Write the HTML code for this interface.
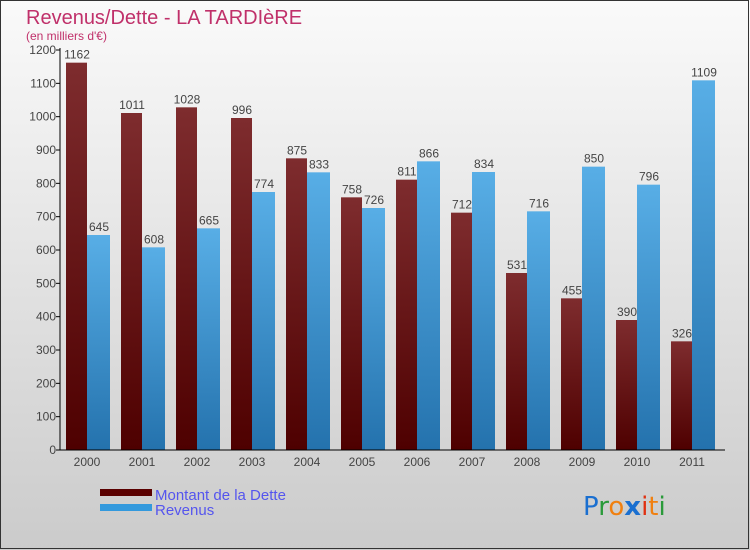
<!DOCTYPE html>
<html><head><meta charset="utf-8"><style>
body{margin:0;width:750px;height:550px;overflow:hidden;font-family:"Liberation Sans",sans-serif}
svg{display:block}
</style></head><body>
<svg width="750" height="550">
<defs>
<linearGradient id="bg" x1="0" y1="0" x2="0" y2="1"><stop offset="0" stop-color="#fafafa"/><stop offset="1" stop-color="#cbcbcb"/></linearGradient>
<linearGradient id="gd" x1="0" y1="0" x2="0" y2="1"><stop offset="0" stop-color="#7e2c2e"/><stop offset="1" stop-color="#4e0000"/></linearGradient>
<linearGradient id="gr" x1="0" y1="0" x2="0" y2="1"><stop offset="0" stop-color="#58aee6"/><stop offset="1" stop-color="#2472ad"/></linearGradient>
</defs>
<rect x="0" y="0" width="750" height="550" fill="url(#bg)"/>
<rect x="0.5" y="0.5" width="748" height="548" fill="none" stroke="#333" stroke-width="1"/>
<text x="26" y="24" font-size="20" fill="#c0306a">Revenus/Dette - LA TARDIèRE</text>
<text x="26" y="40" font-size="12" fill="#c0306a">(en milliers d'€)</text>
<g id="plot"></g>
<g>
<rect x="100" y="489" width="52" height="7" fill="#5a0000"/>
<text x="155" y="500" font-size="15" fill="#5555ee">Montant de la Dette</text>
<rect x="100" y="504" width="52" height="7" fill="#3399dd"/>
<text x="155" y="515" font-size="15" fill="#5555ee">Revenus</text>
</g>
<g font-size="26" font-family="'DejaVu Sans',sans-serif">
<text x="583" y="515"><tspan fill="#1a6fd0">P</tspan><tspan fill="#2a9a3a">r</tspan><tspan fill="#f08010">o</tspan><tspan fill="#1a6fd0" font-weight="bold">x</tspan><tspan fill="#e03010">i</tspan><tspan fill="#f08010">t</tspan><tspan fill="#2a9a3a">i</tspan></text>
</g>
</svg>
<script>
const years=["2000","2001","2002","2003","2004","2005","2006","2007","2008","2009","2010","2011"];
const dette=[1162,1011,1028,996,875,758,811,712,531,455,390,326];
const revenus=[645,608,665,774,833,726,866,834,716,850,796,1109];
const yTicks=[0,100,200,300,400,500,600,700,800,900,1000,1100,1200];
const NS="http://www.w3.org/2000/svg";
const g=document.getElementById('plot');
const y=v=>450-v*400/1200;
const x=i=>87+i*55;
function mk(t,a){const e=document.createElementNS(NS,t);for(const k in a)e.setAttribute(k,a[k]);g.appendChild(e);return e;}
yTicks.forEach(v=>{
 const l=mk('line',{x1:56,x2:60,y1:y(v),y2:y(v),stroke:'#000'});
 
 
 const t=mk('text',{x:56,y:y(v)+4,'font-size':12,fill:'#444','text-anchor':'end'});
 t.textContent=v;
 
 
});
years.forEach((yr,i)=>{
 const cx=x(i);
 const b1=mk('rect',{x:cx-21,y:y(dette[i]),width:21,height:450-y(dette[i]),fill:'url(#gd)'});
 
 
 const b2=mk('rect',{x:cx,y:y(revenus[i]),width:23,height:450-y(revenus[i]),fill:'url(#gr)'});
 
 
 const t1=mk('text',{x:cx-10,y:y(dette[i])-4,'font-size':12,fill:'#444','text-anchor':'middle'});
 t1.textContent=dette[i];
 
 
 const t2=mk('text',{x:cx+12,y:y(revenus[i])-4,'font-size':12,fill:'#444','text-anchor':'middle'});
 t2.textContent=revenus[i];
 
 
 const xl=mk('text',{x:cx,y:466,'font-size':12,fill:'#444','text-anchor':'middle'});
 xl.textContent=yr;
 
 
});
const ya=mk('line',{x1:60,x2:60,y1:48,y2:450,stroke:'#000'});


const xa=mk('line',{x1:60,x2:725,y1:450,y2:450,stroke:'#000'});


</script>
</body></html>
